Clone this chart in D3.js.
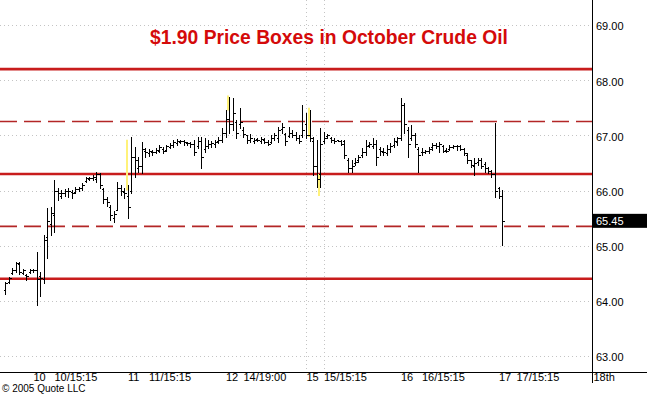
<!DOCTYPE html>
<html>
<head>
<meta charset="utf-8">
<script src="https://cdn.jsdelivr.net/npm/d3@7"></script>
<style>
  body { margin: 0; background: #fff; }
  text { font-family: "Liberation Sans", Arial, sans-serif; }
</style>
</head>
<body>
<svg id="chart"></svg>
<script>
// bar data, one entry per bar (oldest first)
var opens = [
  64.20, 64.35, 64.50, 64.55, 64.66, 64.50, 64.47, 64.53, 64.55, 64.55,
  64.45, 64.40, 65.15, 65.40, 65.55, 66.00, 65.90, 65.96, 66.00, 65.97,
  65.98, 66.02, 66.04, 66.18, 66.21, 66.22, 66.20, 66.30, 66.02, 65.85,
  65.70, 65.50, 65.65, 66.05, 65.98, 65.90, 66.00, 66.60, 66.40, 66.45,
  66.72, 66.68, 66.70, 66.70, 66.72, 66.76, 66.74, 66.79, 66.82, 66.86,
  66.88, 66.90, 66.86, 66.86, 66.84, 66.80, 66.90, 66.75, 66.80, 66.84,
  66.85, 66.90, 66.92, 67.05, 67.30, 67.20, 67.25, 67.20, 67.10, 67.00,
  66.92, 66.90, 66.93, 66.90, 66.92, 66.88, 66.88, 66.96, 66.95, 67.12,
  67.02, 66.98, 67.05, 67.00, 66.95, 67.00, 67.20, 67.00, 66.90, 66.45,
  66.30, 66.90, 66.98, 66.95, 66.92, 66.91, 66.90, 66.90, 66.55, 66.40,
  66.50, 66.55, 66.65, 66.70, 66.82, 66.80, 66.85, 66.75, 66.70, 66.68,
  66.75, 66.82, 66.88, 66.95, 67.55, 67.10, 66.95, 67.00, 66.75, 66.70,
  66.70, 66.72, 66.78, 66.82, 66.80, 66.80, 66.74, 66.75, 66.78, 66.80,
  66.80, 66.75, 66.65, 66.55, 66.45, 66.52, 66.55, 66.48, 66.40, 66.35,
  66.30, 66.05, 65.90
];
var highs = [
  64.35, 64.44, 64.60, 64.71, 64.71, 64.57, 64.48, 64.57, 64.57, 64.89,
  64.53, 65.20, 65.69, 65.70, 66.19, 66.05, 66.01, 66.03, 66.05, 66.01,
  66.07, 66.07, 66.14, 66.25, 66.25, 66.29, 66.34, 66.32, 66.05, 65.89,
  65.74, 65.62, 66.16, 66.10, 66.05, 66.10, 66.97, 66.79, 66.61, 66.88,
  66.77, 66.75, 66.74, 66.77, 66.83, 66.79, 66.82, 66.86, 66.92, 66.94,
  66.92, 66.92, 66.88, 66.88, 66.92, 66.97, 66.97, 66.95, 66.92, 66.90,
  66.92, 66.97, 67.14, 67.46, 67.70, 67.68, 67.28, 67.50, 67.15, 67.01,
  67.03, 66.95, 66.95, 66.97, 66.95, 66.92, 67.01, 67.05, 67.15, 67.23,
  67.05, 67.15, 67.10, 67.06, 67.01, 67.55, 67.40, 67.46, 66.97, 66.92,
  67.14, 67.06, 67.03, 66.97, 66.95, 66.92, 66.92, 66.92, 66.59, 66.56,
  66.59, 66.65, 66.77, 66.92, 66.88, 66.95, 66.92, 66.79, 66.77, 66.83,
  66.86, 66.95, 66.97, 67.68, 67.59, 67.15, 67.19, 67.05, 66.79, 66.77,
  66.74, 66.79, 66.86, 66.86, 66.88, 66.83, 66.77, 66.83, 66.83, 66.83,
  66.83, 66.77, 66.68, 66.56, 66.59, 66.59, 66.59, 66.52, 66.43, 66.38,
  67.23, 66.07, 66.01
];
var lows = [
  64.13, 64.33, 64.48, 64.53, 64.48, 64.48, 64.38, 64.51, 64.53, 63.93,
  64.08, 64.33, 64.78, 65.20, 65.25, 65.83, 65.87, 65.90, 65.89, 65.87,
  65.96, 65.99, 66.01, 66.16, 66.19, 66.19, 66.16, 66.05, 65.78, 65.71,
  65.47, 65.43, 65.65, 65.92, 65.87, 65.51, 65.96, 66.25, 66.34, 66.32,
  66.61, 66.63, 66.65, 66.68, 66.70, 66.68, 66.72, 66.77, 66.79, 66.83,
  66.86, 66.83, 66.83, 66.79, 66.65, 66.77, 66.41, 66.70, 66.77, 66.78,
  66.79, 66.86, 66.88, 66.97, 67.05, 67.10, 66.95, 67.14, 66.97, 66.86,
  66.88, 66.86, 66.90, 66.86, 66.86, 66.83, 66.86, 66.92, 66.88, 67.05,
  66.83, 66.97, 66.97, 66.92, 66.86, 66.97, 66.95, 66.90, 66.29, 66.07,
  66.07, 66.86, 66.95, 66.88, 66.86, 66.90, 66.83, 66.59, 66.34, 66.34,
  66.47, 66.52, 66.61, 66.65, 66.79, 66.77, 66.47, 66.65, 66.65, 66.65,
  66.70, 66.79, 66.83, 66.92, 67.05, 66.61, 66.92, 66.79, 66.34, 66.65,
  66.68, 66.68, 66.74, 66.77, 66.70, 66.70, 66.70, 66.74, 66.77, 66.74,
  66.74, 66.65, 66.50, 66.43, 66.29, 66.47, 66.41, 66.34, 66.32, 66.25,
  65.89, 65.87, 65.02
];
var closes = [
  64.33, 64.42, 64.55, 64.68, 64.52, 64.55, 64.45, 64.55, 64.55, 64.40,
  64.42, 65.10, 65.45, 65.60, 66.00, 65.95, 65.95, 66.00, 66.00, 65.95,
  66.03, 66.05, 66.10, 66.22, 66.22, 66.25, 66.30, 66.10, 65.85, 65.80,
  65.55, 65.58, 66.05, 66.00, 65.95, 65.70, 66.60, 66.55, 66.45, 66.75,
  66.70, 66.72, 66.70, 66.74, 66.78, 66.72, 66.80, 66.82, 66.88, 66.90,
  66.90, 66.88, 66.86, 66.84, 66.70, 66.90, 66.60, 66.80, 66.85, 66.86,
  66.88, 66.92, 67.05, 67.30, 67.20, 67.40, 67.05, 67.25, 67.02, 66.92,
  66.95, 66.92, 66.92, 66.93, 66.88, 66.85, 66.95, 67.00, 67.10, 67.15,
  66.90, 67.05, 67.00, 66.95, 66.90, 67.10, 67.00, 66.95, 66.45, 66.20,
  66.85, 66.95, 67.00, 66.92, 66.90, 66.90, 66.85, 66.65, 66.40, 66.45,
  66.52, 66.60, 66.70, 66.80, 66.84, 66.85, 66.60, 66.72, 66.70, 66.75,
  66.80, 66.90, 66.95, 67.55, 67.20, 66.85, 67.00, 66.85, 66.65, 66.70,
  66.72, 66.75, 66.82, 66.80, 66.85, 66.72, 66.72, 66.78, 66.80, 66.80,
  66.76, 66.68, 66.55, 66.47, 66.50, 66.55, 66.45, 66.40, 66.35, 66.30,
  66.00, 65.90, 65.45
];

// yellow marks: bar index, top, bottom
var markBars = [35, 64, 87, 90];
var markHighs = [66.92, 67.72, 67.50, 66.30];
var markLows = [66.00, 67.45, 66.97, 65.90];

// x axis labels and the bar slot where each one sits
var tickLabels = ["10", "10/15:15", "11", "11/15:15", "12", "14/19:00", "15",
  "15/15:15", "16", "16/15:15", "17", "17/15:15", "18th"];
var tickBars = [8, 14, 35, 41, 63, 68, 86, 91, 113, 119, 141, 146, 168];

var priceTicks = [63, 64, 65, 66, 67, 68, 69];
var boxLevels = [68.20, 67.25, 66.30, 65.35, 64.40];
var lastPrice = 65.45;
var title = "$1.90 Price Boxes in October Crude Oil";

var width = 647, height = 395;
var plotRight = 592, axisY = 372;

var svg = d3.select("#chart")
  .attr("width", width)
  .attr("height", height);

var x = d3.scaleLinear().domain([0, 168]).range([5, 593]);
var y = d3.scaleLinear().domain([63, 69]).range([356, 25]);

function px(v) { return Math.round(v) + 0.5; }

// dotted grid
svg.append("g")
    .attr("stroke", "#c4c4c4")
    .attr("stroke-dasharray", "1,3")
  .selectAll("line").data(priceTicks).enter().append("line")
    .attr("x1", 0)
    .attr("x2", plotRight)
    .attr("y1", d => px(y(d)))
    .attr("y2", d => px(y(d)));

svg.append("g")
    .attr("stroke", "#c4c4c4")
    .attr("stroke-dasharray", "1,3")
  .selectAll("line").data([tickBars[6], tickBars[7]]).enter().append("line")
    .attr("x1", d => px(x(d)))
    .attr("x2", d => px(x(d)))
    .attr("y1", 0)
    .attr("y2", axisY);

// title
svg.append("text")
  .attr("x", 329)
  .attr("y", 44)
  .style("text-anchor", "middle")
  .style("font-size", "19.3px")
  .style("font-weight", "bold")
  .attr("fill", "#d40a0a")
  .text(title);

// price box lines (solid edges, dashed middles)
svg.append("g")
  .selectAll("line").data(boxLevels).enter().append("line")
    .attr("x1", 0)
    .attr("x2", plotRight)
    .attr("y1", d => y(d))
    .attr("y2", d => y(d))
    .attr("stroke", (d, i) => i % 2 ? "#b32626" : "#c81c1c")
    .attr("stroke-width", (d, i) => i % 2 ? 1.6 : 2.6)
    .attr("stroke-dasharray", (d, i) => i % 2 ? "17,7" : null);

// yellow marks
svg.append("g")
    .attr("stroke", "#fff27a")
    .attr("stroke-width", 2)
  .selectAll("line").data(markBars).enter().append("line")
    .attr("x1", d => Math.round(x(d)) - 1)
    .attr("x2", d => Math.round(x(d)) - 1)
    .attr("y1", (d, i) => y(markHighs[i]))
    .attr("y2", (d, i) => y(markLows[i]));

// OHLC bars
var bars = svg.append("g")
    .attr("stroke", "#000")
    .attr("stroke-width", 1)
    .attr("shape-rendering", "crispEdges")
  .selectAll("g").data(closes).enter().append("g");

bars.append("line")
  .attr("x1", (d, i) => px(x(i)))
  .attr("x2", (d, i) => px(x(i)))
  .attr("y1", (d, i) => Math.round(y(highs[i])))
  .attr("y2", (d, i) => Math.round(y(lows[i])) + 1);

bars.append("line")
  .attr("x1", (d, i) => px(x(i)) - 2)
  .attr("x2", (d, i) => px(x(i)))
  .attr("y1", (d, i) => px(y(opens[i])))
  .attr("y2", (d, i) => px(y(opens[i])));

bars.append("line")
  .attr("x1", (d, i) => px(x(i)))
  .attr("x2", (d, i) => px(x(i)) + 2.5)
  .attr("y1", d => px(y(d)))
  .attr("y2", d => px(y(d)));

// right price axis
svg.append("line")
  .attr("x1", plotRight + 0.5).attr("x2", plotRight + 0.5)
  .attr("y1", 0).attr("y2", 383)
  .attr("stroke", "#000");

var yAxis = svg.append("g")
  .attr("transform", "translate(" + plotRight + ",0)")
  .call(d3.axisRight(y).tickValues(priceTicks).tickSize(0).tickPadding(4)
    .tickFormat(d3.format(".2f")));
yAxis.select(".domain").remove();
yAxis.selectAll("text")
  .style("font-family", "'Liberation Sans', Arial, sans-serif")
  .style("font-size", "11px")
  .attr("dy", "0.45em");

// last price marker
svg.append("rect")
  .attr("x", plotRight + 1)
  .attr("y", y(lastPrice) - 7)
  .attr("width", width - plotRight)
  .attr("height", 14)
  .attr("fill", "#000");

svg.append("text")
  .attr("x", plotRight + 4)
  .attr("y", y(lastPrice) + 4)
  .style("font-size", "11px")
  .attr("fill", "#fff")
  .text(d3.format(".2f")(lastPrice));

// bottom time axis
svg.append("line")
  .attr("x1", 0).attr("x2", width)
  .attr("y1", axisY + 0.5).attr("y2", axisY + 0.5)
  .attr("stroke", "#000");

var xAxis = svg.append("g")
  .attr("transform", "translate(0," + axisY + ")")
  .call(d3.axisBottom(x).tickValues(tickBars).tickSize(0).tickPadding(8)
    .tickFormat((d, i) => tickLabels[i]));
xAxis.select(".domain").remove();
xAxis.selectAll("text")
  .style("font-family", "'Liberation Sans', Arial, sans-serif")
  .style("font-size", "11px")
  .style("text-anchor", "start")
  .attr("dy", "0.1em");

svg.append("text")
  .attr("x", 2)
  .attr("y", 392)
  .style("font-size", "10px")
  .text("\u00a9 2005 Quote LLC");
</script>
</body>
</html>
